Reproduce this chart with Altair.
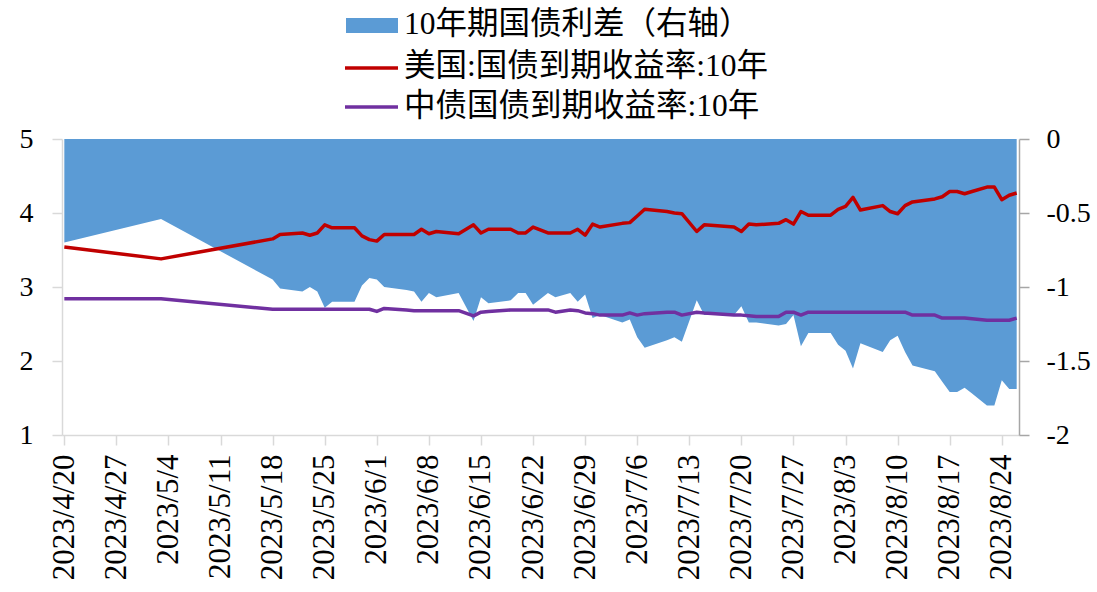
import altair as alt
import pandas as pd

# ---- data -------------------------------------------------------------
dates = [
    "2023-04-20", "2023-05-03", "2023-05-18", "2023-05-19", "2023-05-22",
    "2023-05-23", "2023-05-24", "2023-05-25", "2023-05-26", "2023-05-29",
    "2023-05-30", "2023-05-31", "2023-06-01", "2023-06-02", "2023-06-05",
    "2023-06-06", "2023-06-07", "2023-06-08", "2023-06-09", "2023-06-12",
    "2023-06-14", "2023-06-15", "2023-06-16", "2023-06-19", "2023-06-20",
    "2023-06-21", "2023-06-22", "2023-06-24", "2023-06-25", "2023-06-27",
    "2023-06-28", "2023-06-29", "2023-06-30", "2023-07-01", "2023-07-04",
    "2023-07-05", "2023-07-06", "2023-07-07", "2023-07-10", "2023-07-11",
    "2023-07-12", "2023-07-14", "2023-07-15", "2023-07-19", "2023-07-20",
    "2023-07-21", "2023-07-22", "2023-07-25", "2023-07-26", "2023-07-27",
    "2023-07-28", "2023-07-29", "2023-08-01", "2023-08-02", "2023-08-03",
    "2023-08-04", "2023-08-05", "2023-08-08", "2023-08-09", "2023-08-10",
    "2023-08-11", "2023-08-12", "2023-08-15", "2023-08-16", "2023-08-17",
    "2023-08-18", "2023-08-19", "2023-08-20", "2023-08-22", "2023-08-23",
    "2023-08-24", "2023-08-25", "2023-08-26",
]

# US Treasury 10Y yield (%)
us_10y = [
    3.54, 3.38, 3.65, 3.71, 3.73,
    3.70, 3.73, 3.84, 3.80, 3.80,
    3.69, 3.64, 3.62, 3.71, 3.71,
    3.71, 3.78, 3.72, 3.75, 3.72,
    3.84, 3.73, 3.78, 3.78, 3.73,
    3.73, 3.81, 3.73, 3.73, 3.73,
    3.78, 3.70, 3.85, 3.81, 3.86,
    3.87, 3.96, 4.05, 4.02, 4.00,
    3.99, 3.75, 3.84, 3.81, 3.75,
    3.85, 3.84, 3.86, 3.91, 3.85,
    4.02, 3.97, 3.97, 4.05, 4.09,
    4.21, 4.04, 4.10, 4.02, 3.99,
    4.10, 4.15, 4.19, 4.22, 4.29,
    4.29, 4.26, 4.29, 4.35, 4.35,
    4.18, 4.24, 4.27,
]

# ChinaBond government bond 10Y yield (%)
cn_10y = [
    2.84, 2.84, 2.70, 2.70, 2.70,
    2.70, 2.70, 2.70, 2.70, 2.70,
    2.70, 2.70, 2.67, 2.71, 2.69,
    2.68, 2.68, 2.68, 2.68, 2.68,
    2.61, 2.66, 2.67, 2.69, 2.69,
    2.69, 2.69, 2.69, 2.66, 2.69,
    2.68, 2.65, 2.64, 2.62, 2.62,
    2.65, 2.62, 2.64, 2.66, 2.66,
    2.62, 2.66, 2.65, 2.62, 2.62,
    2.61, 2.60, 2.60, 2.66, 2.66,
    2.62, 2.66, 2.66, 2.66, 2.66,
    2.66, 2.66, 2.66, 2.66, 2.66,
    2.66, 2.62, 2.62, 2.58, 2.58,
    2.58, 2.58, 2.57, 2.55, 2.55,
    2.55, 2.55, 2.58,
]

tick_dates = [
    "2023-04-20", "2023-04-27", "2023-05-04", "2023-05-11", "2023-05-18",
    "2023-05-25", "2023-06-01", "2023-06-08", "2023-06-15", "2023-06-22",
    "2023-06-29", "2023-07-06", "2023-07-13", "2023-07-20", "2023-07-27",
    "2023-08-03", "2023-08-10", "2023-08-17", "2023-08-24",
]

left_ticks = [1, 2, 3, 4, 5]
right_ticks = [-2, -1.5, -1, -0.5, 0]

name_spread = "10年期国债利差（右轴）"
name_us = "美国:国债到期收益率:10年"
name_cn = "中债国债到期收益率:10年"

BLUE = "#5B9BD5"
RED = "#C00000"
PURPLE = "#7030A0"
LIGHT = "#d9d9d9"
MID = "#a6a6a6"
FONT = "Liberation Serif"
CJK_FONT = "'Liberation Serif', 'Noto Sans CJK SC'"

# ---- tables -----------------------------------------------------------
df = pd.DataFrame({"date": dates, "us": us_10y, "cn": cn_10y})
df["spread"] = (df["cn"] - df["us"]).round(2)

lines_df = df.melt(id_vars="date", value_vars=["us", "cn"],
                   var_name="key", value_name="yield")
lines_df["series"] = lines_df["key"].map({"us": name_us, "cn": name_cn})


def utc_day(s, hours=0, minutes=0):
    t = pd.Timestamp(s)
    return alt.DateTime(year=t.year, month=t.month, date=t.day,
                        hours=hours, minutes=minutes, utc=True)


x_scale = alt.Scale(
    type="utc",
    domain=[utc_day("2023-04-19", 16, 30), utc_day("2023-08-26", 7, 30)],
)

x_enc = alt.X(
    "date:T",
    scale=x_scale,
    axis=alt.Axis(
        values=[utc_day(d) for d in tick_dates],
        labelExpr="utcFormat(datum.value, '%Y/%-m/%-d')",
        labelAngle=270,
        labelFont=FONT,
        labelFontSize=31,
        labelColor="#000000",
        labelPadding=9,
        labelFlush=False,
        labelOverlap=False,
        tickSize=10,
        tickColor=LIGHT,
        tickWidth=1.5,
        domainColor=LIGHT,
        domainWidth=1.5,
        grid=False,
        title=None,
    ),
)

# ---- spread area on the right axis -----------------------------------
area = alt.Chart(df).mark_area(color=BLUE, interpolate="linear").encode(
    x=x_enc,
    y=alt.Y(
        "spread:Q",
        scale=alt.Scale(domain=[-2, 0], nice=False, zero=False),
        axis=alt.Axis(
            orient="right",
            values=right_ticks,
            labelExpr="'' + datum.value",
            labelFont=FONT,
            labelFontSize=28,
            labelColor="#000000",
            labelPadding=17,
            tickSize=10,
            tickColor=MID,
            tickWidth=1.5,
            domainColor=MID,
            domainWidth=1.5,
            grid=False,
            title=None,
        ),
    ),
    y2=alt.datum(0),
)

# ---- yield lines on the left axis -------------------------------------
lines = alt.Chart(lines_df).mark_line(
    strokeWidth=3.5, strokeJoin="round", interpolate="linear"
).encode(
    x=x_enc,
    y=alt.Y(
        "yield:Q",
        scale=alt.Scale(domain=[1, 5], nice=False, zero=False),
        axis=alt.Axis(
            orient="left",
            values=left_ticks,
            labelFont=FONT,
            labelFontSize=28,
            labelColor="#000000",
            labelPadding=19,
            tickSize=10,
            tickColor=LIGHT,
            tickWidth=1.5,
            domainColor=LIGHT,
            domainWidth=1.5,
            grid=False,
            title=None,
        ),
    ),
    color=alt.Color(
        "series:N",
        scale=alt.Scale(domain=[name_us, name_cn], range=[RED, PURPLE]),
        legend=None,
    ),
    order=alt.Order("date:T"),
)

# ---- legend drawn above the plot --------------------------------------
def legend_row(name, y):
    return alt.Chart(pd.DataFrame({"name": [name]})).mark_text(
        align="left", baseline="middle", font=CJK_FONT, fontSize=31.5,
        color="#000000",
    ).encode(text="name:N", x=alt.value(342), y=alt.value(y))


leg_area = alt.Chart(pd.DataFrame({"name": [name_spread]})).mark_rect(
    color=BLUE
).encode(x=alt.value(284), x2=alt.value(336),
         y=alt.value(-121), y2=alt.value(-106))
leg_us = alt.Chart(pd.DataFrame({"name": [name_us]})).mark_rule(
    color=RED, strokeWidth=3.5
).encode(x=alt.value(283), x2=alt.value(336), y=alt.value(-71))
leg_cn = alt.Chart(pd.DataFrame({"name": [name_cn]})).mark_rule(
    color=PURPLE, strokeWidth=3.5
).encode(x=alt.value(283), x2=alt.value(336), y=alt.value(-32))

chart = alt.layer(
    area, lines,
    leg_area, legend_row(name_spread, -114),
    leg_us, legend_row(name_us, -72),
    leg_cn, legend_row(name_cn, -32),
).resolve_scale(
    y="independent"
).properties(
    width=957,
    height=296,
    padding={"left": 62, "top": 139, "right": 78, "bottom": 157},
    autosize=alt.AutoSizeParams(type="none"),
    background="#ffffff",
).configure_view(stroke=None)

chart.save("out.html", embed_options={"renderer": "svg", "actions": False})
